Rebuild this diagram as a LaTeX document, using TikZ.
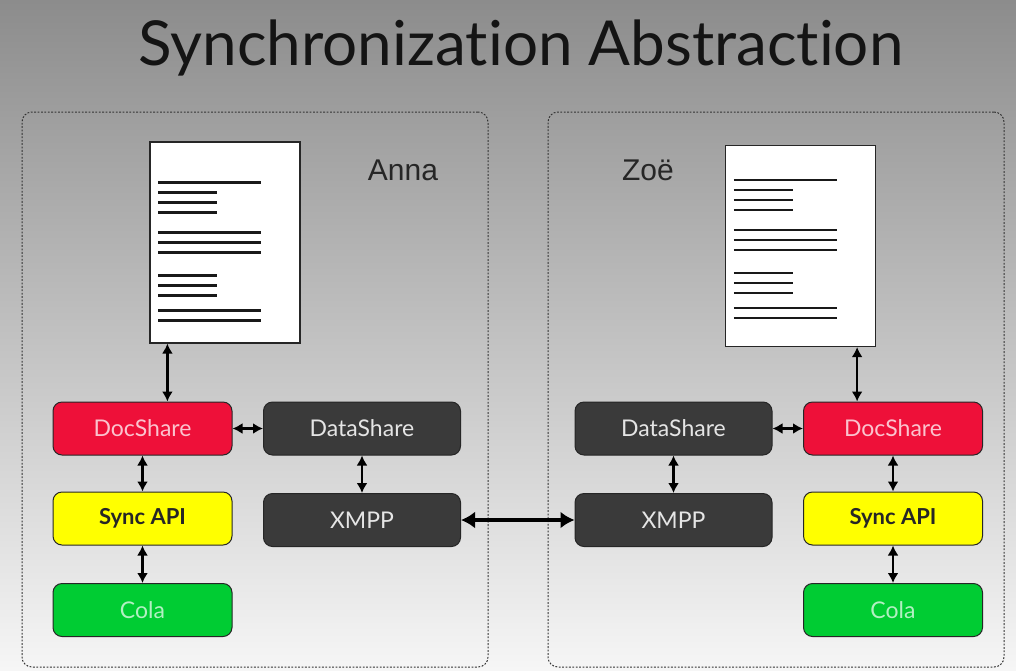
\documentclass[tikz,border=0pt]{standalone}
\usepackage{fontspec}
\setmainfont[Ligatures=NoCommon]{Lato}
\newfontfamily\helv{Liberation Sans}
\usetikzlibrary{arrows.meta,positioning,shapes}

\definecolor{bgtop}{HTML}{8C8C8C}
\definecolor{bgbot}{HTML}{F6F6F6}
\definecolor{docred}{HTML}{EE1039}
\definecolor{syncyel}{HTML}{FFFF00}
\definecolor{colagreen}{HTML}{00CC33}
\definecolor{datagray}{HTML}{3A3A3A}

\tikzset{
  title/.style={font=\fontsize{62}{62}\selectfont, text=black!92},
  peer/.style={draw=black!80, line width=1pt, dash pattern=on 1.8pt off 1.6pt,
    rounded corners=10pt, minimum height=555pt},
  page/.style={draw=black!85, fill=white, line width=1.2pt,
    minimum width=150pt, minimum height=201pt},
  txt/.style={line width=2.6pt, black!90},
  who/.style={font=\helv\fontsize{30}{30}\selectfont, text=black!85},
  blk/.style={draw=black!85, line width=1pt, rounded corners=9pt,
    minimum height=53pt, font=\fontsize{23}{23}\selectfont},
  docshare/.style={blk, fill=docred, text=docred!25!white, minimum width=179pt},
  datashare/.style={blk, fill=datagray, text=white!90!black, minimum width=197pt},
  syncapi/.style={blk, fill=syncyel, text=black!85, minimum width=179pt, font=\bfseries\fontsize{22}{22}\selectfont},
  cola/.style={blk, fill=colagreen, text=colagreen!30!white, minimum width=179pt},
  dbl/.style={{Latex[length=10pt,width=11pt]}-{Latex[length=10pt,width=11pt]}, line width=2.4pt},
  big/.style={{Latex[length=14pt,width=17pt]}-{Latex[length=14pt,width=17pt]}, line width=3.8pt},
}

\begin{document}
\begin{tikzpicture}[x=1pt,y=-1pt]

  \newcommand\pagelines[2]{%
    \foreach \dy/\w in {0/103,10/59,20/59,30/59,50/103,60/103,70/103,93/59,103/59,113/59,128/103,138/103}
      \draw[txt] ([shift={(9,#2+\dy)}]#1.north west) -- ++(\w,0);}

  \useasboundingbox (0,0) rectangle (1016,670);
  \shade[top color=bgtop, bottom color=bgbot] (0,0) rectangle (1016,670);

  \node[title] (title) at (521,48) {Synchronization Abstraction};

  %% the two peers
  \node[peer, minimum width=466pt] (annaBox) at (255,389.5) {};
  \node[peer, minimum width=456pt] (zoeBox) at (776,389.5) {};

  \node[who] (anna) at (403,170) {Anna};
  \node[who] (zoe) at (648,170) {Zoë};

  %% documents
  \node[page] (docA) at (225,242.5) {};
  \pagelines{docA}{41}
  \node[page] (docB) at (800.5,246) {};
  \pagelines{docB}{35}

  %% Anna's stack
  \node[docshare] (docshareA) at (142.5,428.5) {DocShare};
  \node[datashare] (datashareA) at (362,428.5) {DataShare};
  \node[syncapi] (syncA) at (142.5,518.5) {Sync API};
  \node[datashare] (xmppA) at (362,520) {XMPP};
  \node[cola] (colaA) at (142.5,610) {Cola};

  %% Zoe's stack
  \node[datashare] (datashareB) at (673.5,428.5) {DataShare};
  \node[docshare] (docshareB) at (893,428.5) {DocShare};
  \node[datashare] (xmppB) at (673.5,520) {XMPP};
  \node[syncapi] (syncB) at (893,518.5) {Sync API};
  \node[cola] (colaB) at (893,610) {Cola};

  \draw[dbl] ([xshift=18pt]docA.south west) -- ([xshift=18pt]docA.south west |- docshareA.north); % doc<->DocShare
  \draw[dbl] (docshareA) -- (datashareA);
  \draw[dbl] (docshareA) -- (syncA);
  \draw[dbl] (syncA) -- (colaA);
  \draw[dbl] (datashareA) -- (xmppA);

  \draw[dbl] ([xshift=-19pt]docB.south east) -- ([xshift=-19pt]docB.south east |- docshareB.north); % doc<->DocShare
  \draw[dbl] (datashareB) -- (docshareB);
  \draw[dbl] (docshareB) -- (syncB);
  \draw[dbl] (syncB) -- (colaB);
  \draw[dbl] (datashareB) -- (xmppB);

  \draw[big] (xmppA) -- (xmppB); %% XMPP<->XMPP

\end{tikzpicture}
\end{document}
